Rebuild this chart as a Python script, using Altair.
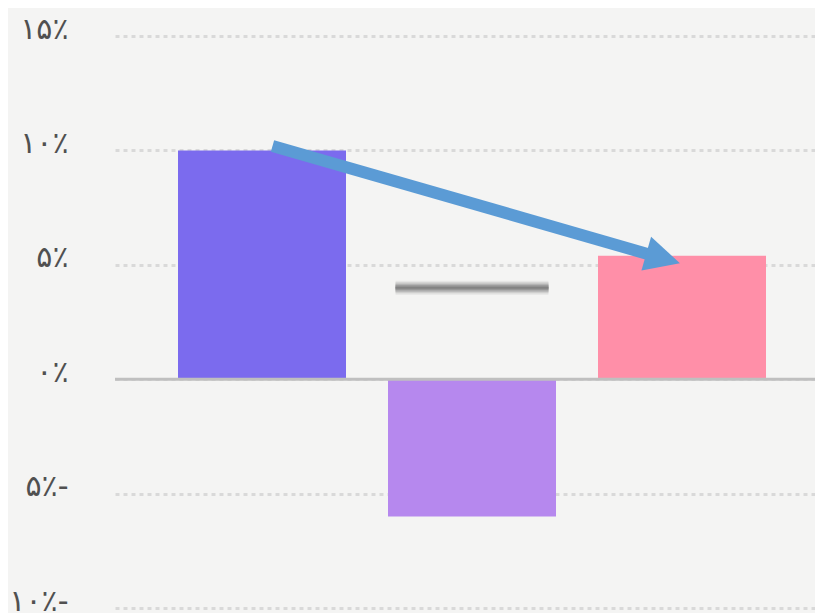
import altair as alt
import pandas as pd

# ---- data ----
categories = ["الف", "ب", "ج"]
values = [10.0, -6.0, 5.4]
bar_colors = ["#7B6BEE", "#B688EE", "#FF8FA8"]

tick_values = [-10, -5, 0, 5, 10, 15]
tick_labels = ["۱۰٪-", "۵٪-", "۰٪", "۵٪", "۱۰٪", "۱۵٪"]

avg_value = 4.0
avg_x = [0.636, 1.364]

arrow_x = [0.05, 1.91]
arrow_y = [10.19, 5.28]
arrow_angle = 16

# ---- frames ----
bars_df = pd.DataFrame({"cat": categories, "value": values, "color": bar_colors})
avg_df = pd.DataFrame({"x": [avg_x[0]], "x2": [avg_x[1]], "y": [avg_value]})
shaft_df = pd.DataFrame({"x": [arrow_x[0]], "x2": [arrow_x[1]], "y": [arrow_y[0]], "y2": [arrow_y[1]]})
head_df = pd.DataFrame({"x": [arrow_x[1]], "y": [arrow_y[1]]})
zero_df = pd.DataFrame({"y": [0]})

label_expr = ""
for v, l in zip(tick_values, tick_labels):
    label_expr += f"datum.value == {v} ? '{l}' : "
label_expr += "''"

yscale = alt.Scale(domain=[-10, 15], nice=False, zero=False)
yaxis = alt.Axis(values=tick_values, labelExpr=label_expr, domain=False, ticks=False,
                 grid=True, gridDash=[4, 4], gridColor="#d9d9d9", gridWidth=3,
                 labelFont="DejaVu Sans", labelFontSize=30, labelColor="#505050",
                 labelPadding=47, labelOffset=-7, title=None)

W = 700
XR = [0, 714]

bars = alt.Chart(bars_df).mark_bar().encode(
    x=alt.X("cat:N", sort=categories,
            scale=alt.Scale(range=XR, paddingInner=0.2, paddingOuter=0.3), axis=None),
    y=alt.Y("value:Q", scale=yscale, axis=yaxis),
    color=alt.Color("color:N", scale=None),
)

xq = alt.Scale(domain=[-0.7, 2.7], range=XR, nice=False, zero=False)

def avg_layer(width, color):
    return alt.Chart(avg_df).mark_rule(strokeWidth=width, color=color, strokeCap="butt").encode(
        x=alt.X("x:Q", scale=xq, axis=None), x2="x2:Q",
        y=alt.Y("y:Q", scale=yscale, axis=yaxis))

avg = (avg_layer(14, "#e6e6e5") + avg_layer(11, "#cfcfce") + avg_layer(8, "#b3b3b3")
       + avg_layer(5, "#969696") + avg_layer(2, "#828282"))

shaft = alt.Chart(shaft_df).mark_rule(strokeWidth=12, color="#5B9BD5", strokeCap="butt").encode(
    x=alt.X("x:Q", scale=xq, axis=None), x2="x2:Q",
    y=alt.Y("y:Q", scale=yscale, axis=yaxis), y2="y2:Q")

head = alt.Chart(head_df).mark_point(shape="M-1,-1L1,0L-1,1Z", size=1225, filled=True,
                                      opacity=1, color="#5B9BD5", angle=arrow_angle,
                                      strokeWidth=0).encode(
    x=alt.X("x:Q", scale=xq, axis=None),
    y=alt.Y("y:Q", scale=yscale, axis=yaxis))

zero = alt.Chart(zero_df).mark_rule(color="#bfbfbf", strokeWidth=3).encode(
    y=alt.Y("y:Q", scale=yscale, axis=yaxis))

chart = alt.layer(bars, zero, avg, shaft, head).resolve_scale(x="independent").properties(
    width=W, height=572,
    autosize=alt.AutoSizeParams(type="none"),
    padding={"left": 107, "top": 28, "right": 0, "bottom": 12},
    background="#f4f4f3",
).configure_view(stroke=None)

chart.save("out.html", embed_options={"renderer": "svg", "actions": False})
